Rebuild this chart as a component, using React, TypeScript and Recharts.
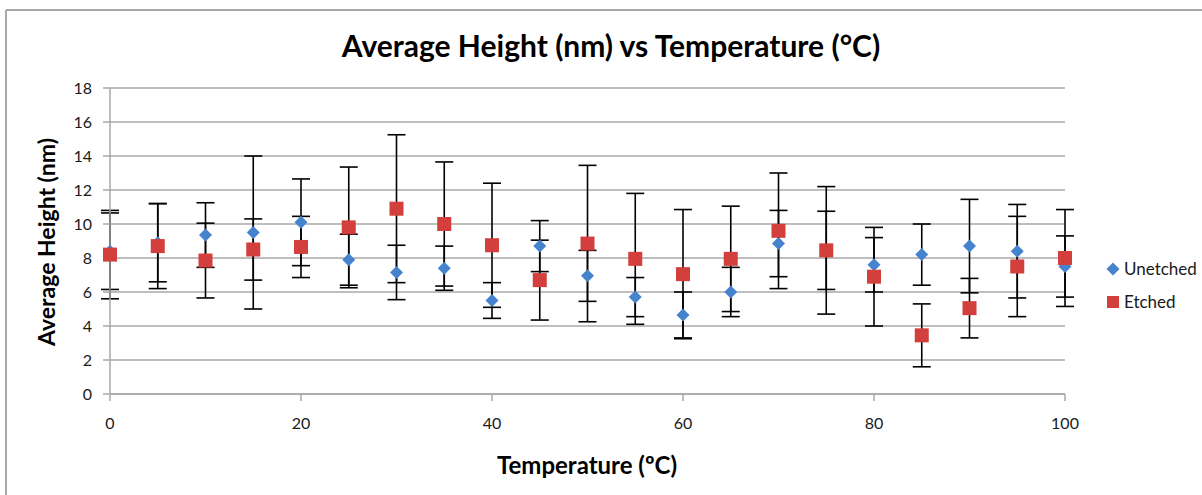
import React from 'react';
import { ScatterChart, Scatter, XAxis, YAxis, CartesianGrid, ErrorBar } from 'recharts';

const temperatures = [0, 5, 10, 15, 20, 25, 30, 35, 40, 45, 50, 55, 60, 65, 70, 75, 80, 85, 90, 95, 100];
const unetchedMean = [8.4, 8.9, 9.35, 9.5, 10.1, 7.9, 7.15, 7.4, 5.5, 8.7, 6.95, 5.7, 4.65, 6.0, 8.85, 8.45, 7.6, 8.2, 8.7, 8.4, 7.5];
const unetchedErr = [2.25, 2.3, 1.9, 4.5, 2.55, 1.5, 1.6, 1.3, 1.05, 1.5, 1.5, 1.15, 1.35, 1.45, 1.95, 2.3, 1.6, 1.8, 2.75, 2.75, 1.8];
const etchedMean = [8.2, 8.7, 7.85, 8.5, 8.65, 9.8, 10.9, 10.0, 8.75, 6.7, 8.85, 7.95, 7.05, 7.95, 9.6, 8.45, 6.9, 3.45, 5.05, 7.5, 8.0];
const etchedErr = [2.6, 2.5, 2.2, 1.8, 1.8, 3.55, 4.35, 3.65, 3.65, 2.35, 4.6, 3.85, 3.8, 3.1, 3.4, 3.75, 2.9, 1.85, 1.75, 2.95, 2.85];

const xTicks = [0, 20, 40, 60, 80, 100];
const yTicks = [0, 2, 4, 6, 8, 10, 12, 14, 16, 18];

const seriesNames = ['Unetched', 'Etched'];
const seriesColors = ['#4683cf', '#d23f3d'];
const titleText = 'Average Height (nm) vs Temperature (°C)';
const xLabelText = 'Temperature (ºC)';
const yLabelText = 'Average Height (nm)';

const unetchedData = temperatures.map((t, i) => ({ x: t, y: unetchedMean[i], err: unetchedErr[i] }));
const etchedData = temperatures.map((t, i) => ({ x: t, y: etchedMean[i], err: etchedErr[i] }));

const FONT = 'Lato, "Open Sans", sans-serif';
const GRID = '#a8a8a8';

const DiamondShape = (props: any) => {
  const { cx, cy, fill } = props;
  if (cx == null || cy == null) return null;
  const r = 6.5;
  return <polygon points={`${cx},${cy - r} ${cx + r},${cy} ${cx},${cy + r} ${cx - r},${cy}`} fill={fill} />;
};

const SquareShape = (props: any) => {
  const { cx, cy, fill } = props;
  if (cx == null || cy == null) return null;
  const s = 14;
  return <rect x={cx - s / 2} y={cy - s / 2} width={s} height={s} fill={fill} />;
};

export default function App() {
  return (
    <div style={{ position: 'absolute', left: 0, top: 0, width: 1202, height: 495, background: '#fff', overflow: 'hidden' }}>
      <ScatterChart width={1202} height={495} margin={{ top: 88, right: 137, bottom: 71, left: 0 }}>
        <CartesianGrid horizontal vertical={false} stroke={GRID} strokeWidth={1.5} />
        <XAxis
          type="number"
          dataKey="x"
          domain={[0, 100]}
          ticks={xTicks}
          interval={0}
          height={30}
          tickSize={7}
          tickMargin={17}
          stroke={GRID}
          strokeWidth={1.5}
          tick={{ fill: '#1a1a1a', fontSize: 16, fontFamily: FONT }}
        />
        <YAxis
          type="number"
          dataKey="y"
          domain={[0, 18]}
          ticks={yTicks}
          interval={0}
          width={110}
          tickSize={7}
          tickMargin={11}
          stroke={GRID}
          strokeWidth={1.5}
          tick={{ fill: '#1a1a1a', fontSize: 16, fontFamily: FONT }}
        />
        <Scatter name={seriesNames[0]} data={unetchedData} fill={seriesColors[0]} shape={DiamondShape} isAnimationActive={false}>
          <ErrorBar dataKey="err" direction="y" width={9} stroke="#000" strokeWidth={1.6} />
        </Scatter>
        <Scatter name={seriesNames[1]} data={etchedData} fill={seriesColors[1]} shape={SquareShape} isAnimationActive={false}>
          <ErrorBar dataKey="err" direction="y" width={9} stroke="#000" strokeWidth={1.6} />
        </Scatter>
      </ScatterChart>
      <svg width={1202} height={495} style={{ position: 'absolute', left: 0, top: 0, pointerEvents: 'none' }}>
        <line x1={6} y1={10} x2={1202} y2={10} stroke="#a6a6a6" strokeWidth={2} />
        <line x1={6} y1={10} x2={6} y2={495} stroke="#a6a6a6" strokeWidth={2} />
        <text x={611} y={57} textAnchor="middle" fontFamily={FONT} fontWeight="bold" fontSize={30} fill="#000">{titleText}</text>
        <text x={587} y={474} textAnchor="middle" fontFamily={FONT} fontWeight="bold" fontSize={24} fill="#000">{xLabelText}</text>
        <text x={0} y={0} transform="translate(55,242) rotate(-90)" textAnchor="middle" fontFamily={FONT} fontWeight="bold" fontSize={23} fill="#000">{yLabelText}</text>
        {seriesNames.map((name, i) => {
          const cy = 269 + i * 33;
          return (
            <g key={name}>
              {i === 0 ? (
                <DiamondShape cx={1113} cy={cy} fill={seriesColors[i]} />
              ) : (
                <rect x={1107} y={cy - 6} width={12} height={12} fill={seriesColors[i]} />
              )}
              <text x={1124} y={cy + 6} fontFamily={FONT} fontSize={17} fill="#1a1a1a">{name}</text>
            </g>
          );
        })}
      </svg>
    </div>
  );
}
